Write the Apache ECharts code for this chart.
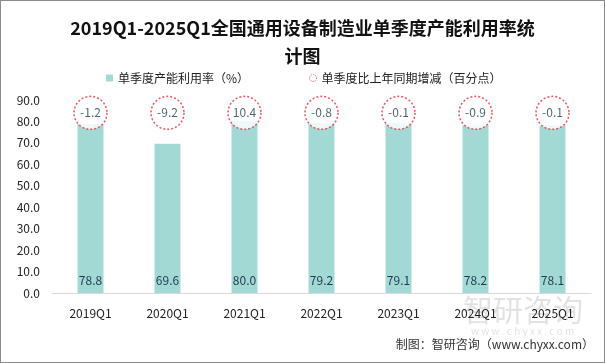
<!DOCTYPE html>
<html><head><meta charset="utf-8">
<script src="https://cdn.jsdelivr.net/npm/echarts@6/dist/echarts.min.js"></script>
<style>
html,body{margin:0;padding:0;background:#fff;}
#c{width:603px;height:361px;border:1px solid #8c8c8c;}
</style></head>
<body><div id="c"></div>
<script>
const categories = ['2019Q1','2020Q1','2021Q1','2022Q1','2023Q1','2024Q1','2025Q1'];
const utilization = [78.8, 69.6, 80.0, 79.2, 79.1, 78.2, 78.1];
const yoyChange = [-1.2, -9.2, 10.4, -0.8, -0.1, -0.9, -0.1];
const circleLevel = 84;

const chart = echarts.init(document.getElementById('c'));
const font = '"Microsoft YaHei","Noto Sans CJK SC",sans-serif';
chart.setOption({
  animation: false,
  textStyle: {fontFamily: font},
  title: {
    text: '2019Q1-2025Q1全国通用设备制造业单季度产能利用率统\n计图',
    left: 'center', top: 8,
    textStyle: {fontSize: 18, fontWeight: 'bold', color: '#111', lineHeight: 28, fontFamily: font}
  },
  legend: {
    top: 66, left: 100, itemGap: 60,
    itemWidth: 7, itemHeight: 7,
    textStyle: {fontSize: 12, color: '#222'},
    data: [
      {name: '单季度产能利用率（%）', icon: 'rect'},
      {name: '单季度比上年同期增减（百分点）', icon: 'circle',
        itemStyle: {color: '#fff', borderColor: '#e0303a', borderWidth: 1, borderType: [1, 1]}}
    ]
  },
  grid: {left: 51, right: 13, top: 99, bottom: 69},
  xAxis: {
    type: 'category', data: categories,
    axisLine: {lineStyle: {color: '#d9d9d9'}},
    axisTick: {show: false},
    axisLabel: {color: '#222', fontSize: 12, margin: 14}
  },
  yAxis: {
    type: 'value', min: 0, max: 90, interval: 10,
    splitLine: {show: false},
    axisLine: {show: false},
    axisTick: {show: false},
    axisLabel: {color: '#222', fontSize: 12, margin: 12, formatter: v => v.toFixed(1)}
  },
  series: [
    {
      name: '单季度产能利用率（%）', type: 'bar', data: utilization, barWidth: 26,
      itemStyle: {color: '#a3d9d5'},
      label: {show: true, position: 'insideBottom', distance: 7, color: '#1f3a4d', fontSize: 12,
        formatter: p => p.value.toFixed(1)}
    },
    {
      name: '单季度比上年同期增减（百分点）', type: 'scatter',
      data: yoyChange.map((v, i) => [i, circleLevel]),
      symbol: 'circle', symbolSize: 33,
      itemStyle: {color: '#fff', borderColor: '#e0303a', borderWidth: 1.5, borderType: [2, 2]},
      label: {show: true, position: 'inside', color: '#1f3a4d', fontSize: 12,
        formatter: p => yoyChange[p.dataIndex].toFixed(1)},
      z: 5
    }
  ],
  graphic: [
    {type: 'text', right: 10, top: 337,
      style: {text: '制图：智研咨询（www.chyxx.com）', fontSize: 12, fill: '#333', fontFamily: font}},
    {type: 'text', left: 462, top: 294,
      style: {text: '智研咨询', fontSize: 30, fill: 'rgba(160,160,160,0.3)', fontFamily: font}},
    {type: 'text', left: 470, top: 325,
      style: {text: 'w w w . c h y x x . c o m', fontSize: 10, fill: 'rgba(160,160,160,0.3)', fontFamily: font}}
  ]
});
</script></body></html>
